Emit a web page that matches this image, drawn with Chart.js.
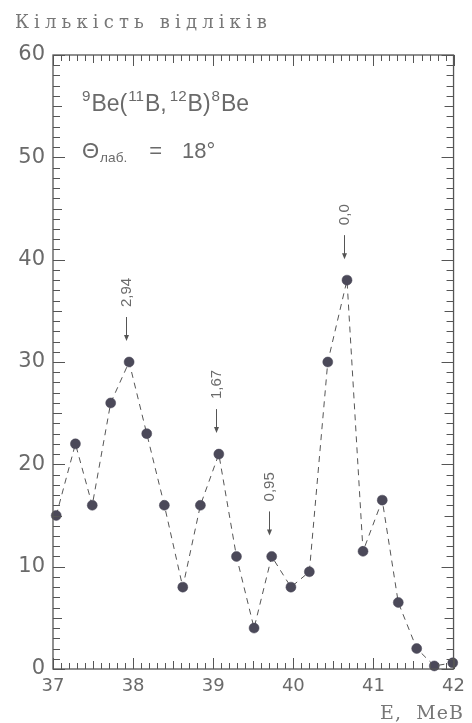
<!DOCTYPE html>
<html>
<head>
<meta charset="utf-8">
<script src="https://cdn.jsdelivr.net/npm/chart.js@4.4.1/dist/chart.umd.min.js"></script>
<style>
  html, body { margin: 0; padding: 0; background: #fff; }
  #wrap { width: 472px; height: 723px; }
</style>
</head>
<body>
<div id="wrap"><canvas id="spectrum" width="472" height="723"></canvas></div>
<script>
// Energy (MeV) and counts
const energy = [37.04, 37.28, 37.49, 37.72, 37.95, 38.17, 38.39, 38.62, 38.84, 39.07, 39.29, 39.51,
                39.73, 39.97, 40.20, 40.43, 40.67, 40.87, 41.11, 41.31, 41.54, 41.76, 41.99];
const counts = [15, 22, 16, 26, 30, 23, 16, 8, 16, 21, 11, 4,
                11, 8, 9.5, 30, 38, 11.5, 16.5, 6.5, 2, 0.3, 0.6];

// Level markers (excitation energy labels) and the point each arrow sits above
const peakLabels = ['2,94', '1,67', '0,95', '0,0'];
const peakIndex = [4, 9, 12, 16];

const xTicks = [37, 38, 39, 40, 41, 42];
const yTicks = [0, 10, 20, 30, 40, 50, 60];

const axisTitleY = 'Кількість відліків';
const axisTitleX = 'E,  МеВ';

const INK = '#555';
const TEXT = '#6a6a6a';

// draw a string made of normal / sup / sub pieces
function drawRich(ctx, x, y, parts, size) {
  parts.forEach(p => {
    let s = size, dy = 0;
    if (p.sup) { s = size * 0.66; dy = -size * 0.42; }
    if (p.sub) { s = size * 0.62; dy = size * 0.2; }
    ctx.font = s + 'px "Liberation Sans", Arial, sans-serif';
    ctx.fillText(p.t, x, y + dy);
    x += ctx.measureText(p.t).width + (p.gap || 0);
  });
}

// fit a string into a given width by spreading the letters
function drawSpread(ctx, text, x, y, width) {
  ctx.letterSpacing = '0px';
  const w = ctx.measureText(text).width;
  const sp = (width - w) / (text.length - 1);
  ctx.letterSpacing = sp.toFixed(2) + 'px';
  ctx.fillText(text, x, y);
  ctx.letterSpacing = '0px';
}

const framePlugin = {
  id: 'frame',
  afterDatasetsDraw(chart) {
    const ctx = chart.ctx;
    const a = chart.chartArea;
    const xs = chart.scales.x, ys = chart.scales.y;
    ctx.save();
    ctx.strokeStyle = INK;
    ctx.lineWidth = 1.3;
    ctx.strokeRect(a.left, a.top, a.right - a.left, a.bottom - a.top);

    ctx.lineWidth = 1;
    ctx.beginPath();
    // x ticks every 0.1 MeV, bottom and top, pointing inward
    for (let i = 0; i <= 50; i++) {
      const px = Math.round(xs.getPixelForValue(37 + i * 0.1)) + 0.5;
      const len = i % 10 === 0 ? 11 : (i % 5 === 0 ? 8 : 6);
      ctx.moveTo(px, a.bottom); ctx.lineTo(px, a.bottom - len);
      ctx.moveTo(px, a.top); ctx.lineTo(px, a.top + len);
    }
    // y ticks every count, left and right
    for (let v = 0; v <= 60; v++) {
      const py = Math.round(ys.getPixelForValue(v)) + 0.5;
      const len = v % 10 === 0 ? 12 : (v % 5 === 0 ? 9 : 7);
      ctx.moveTo(a.left, py); ctx.lineTo(a.left + len, py);
      ctx.moveTo(a.right, py); ctx.lineTo(a.right - len, py);
    }
    ctx.stroke();

    // arrows + rotated level labels
    const meta = chart.getDatasetMeta(0);
    peakIndex.forEach((idx, k) => {
      const pt = meta.data[idx];
      const px = Math.round(pt.x) - 2.5;
      const tip = pt.y - 21;
      const tail = tip - 24;
      ctx.strokeStyle = INK;
      ctx.fillStyle = INK;
      ctx.lineWidth = 1;
      ctx.beginPath();
      ctx.moveTo(px, tail); ctx.lineTo(px, tip - 4);
      ctx.stroke();
      ctx.beginPath();
      ctx.moveTo(px - 2.5, tip - 6); ctx.lineTo(px + 2.5, tip - 6); ctx.lineTo(px, tip);
      ctx.closePath();
      ctx.fill();

      ctx.save();
      ctx.translate(px, tail - 10);
      ctx.rotate(-Math.PI / 2);
      ctx.fillStyle = TEXT;
      ctx.font = '15px "Liberation Sans", Arial, sans-serif';
      ctx.textAlign = 'left';
      ctx.textBaseline = 'middle';
      ctx.fillText(peakLabels[k], 0, 0);
      ctx.restore();
    });

    // reaction and angle
    ctx.fillStyle = TEXT;
    ctx.textAlign = 'left';
    ctx.textBaseline = 'alphabetic';
    drawRich(ctx, 82, 111, [
      { t: '9', sup: true, gap: 1 }, { t: 'Be(', gap: 1 }, { t: '11', sup: true, gap: 1 }, { t: 'B,', gap: 3 },
      { t: '12', sup: true, gap: 1 }, { t: 'B)', gap: 1 }, { t: '8', sup: true, gap: 1 }, { t: 'Be' }
    ], 23);
    drawRich(ctx, 82, 158, [
      { t: 'Θ', gap: 1 }, { t: 'лаб.', sub: true, gap: 22 }, { t: '=', gap: 20 }, { t: '18°' }
    ], 22);

    // axis titles
    ctx.font = '18px "DejaVu Serif", "Liberation Serif", serif';
    ctx.fillStyle = '#777';
    drawSpread(ctx, axisTitleY, 15, 28, 252);
    ctx.font = '19px "DejaVu Serif", "Liberation Serif", serif';
    drawSpread(ctx, axisTitleX, 380, 719, 83);
    ctx.restore();
  }
};

new Chart(document.getElementById('spectrum'), {
  type: 'scatter',
  data: {
    datasets: [{
      data: energy.map((e, i) => ({ x: e, y: counts[i] })),
      showLine: true,
      borderColor: INK,
      borderWidth: 1,
      borderDash: [6, 5],
      pointRadius: 5,
      pointBackgroundColor: '#4b4959',
      pointBorderColor: '#4b4959',
      pointBorderWidth: 0.5,
      clip: false
    }]
  },
  options: {
    responsive: false,
    animation: false,
    devicePixelRatio: 1,
    layout: { padding: { top: 55, right: 12, bottom: 0, left: 0 } },
    plugins: { legend: { display: false }, tooltip: { enabled: false }, title: { display: false } },
    scales: {
      x: {
        type: 'linear',
        min: 37, max: 42,
        afterFit: s => { s.height = 54; },
        afterBuildTicks: s => { s.ticks = xTicks.map(v => ({ value: v })); },
        grid: { display: false, drawTicks: false },
        border: { display: false },
        ticks: {
          padding: 7,
          color: TEXT,
          font: { family: '"DejaVu Sans", sans-serif', size: 18 },
          maxRotation: 0
        }
      },
      y: {
        min: 0, max: 60,
        afterFit: s => { s.width = 53; },
        afterBuildTicks: s => { s.ticks = yTicks.map(v => ({ value: v })); },
        grid: { display: false, drawTicks: false },
        border: { display: false },
        ticks: {
          padding: 8,
          color: TEXT,
          font: { family: '"DejaVu Sans", sans-serif', size: 21 }
        }
      }
    }
  },
  plugins: [framePlugin]
});
</script>
</body>
</html>
